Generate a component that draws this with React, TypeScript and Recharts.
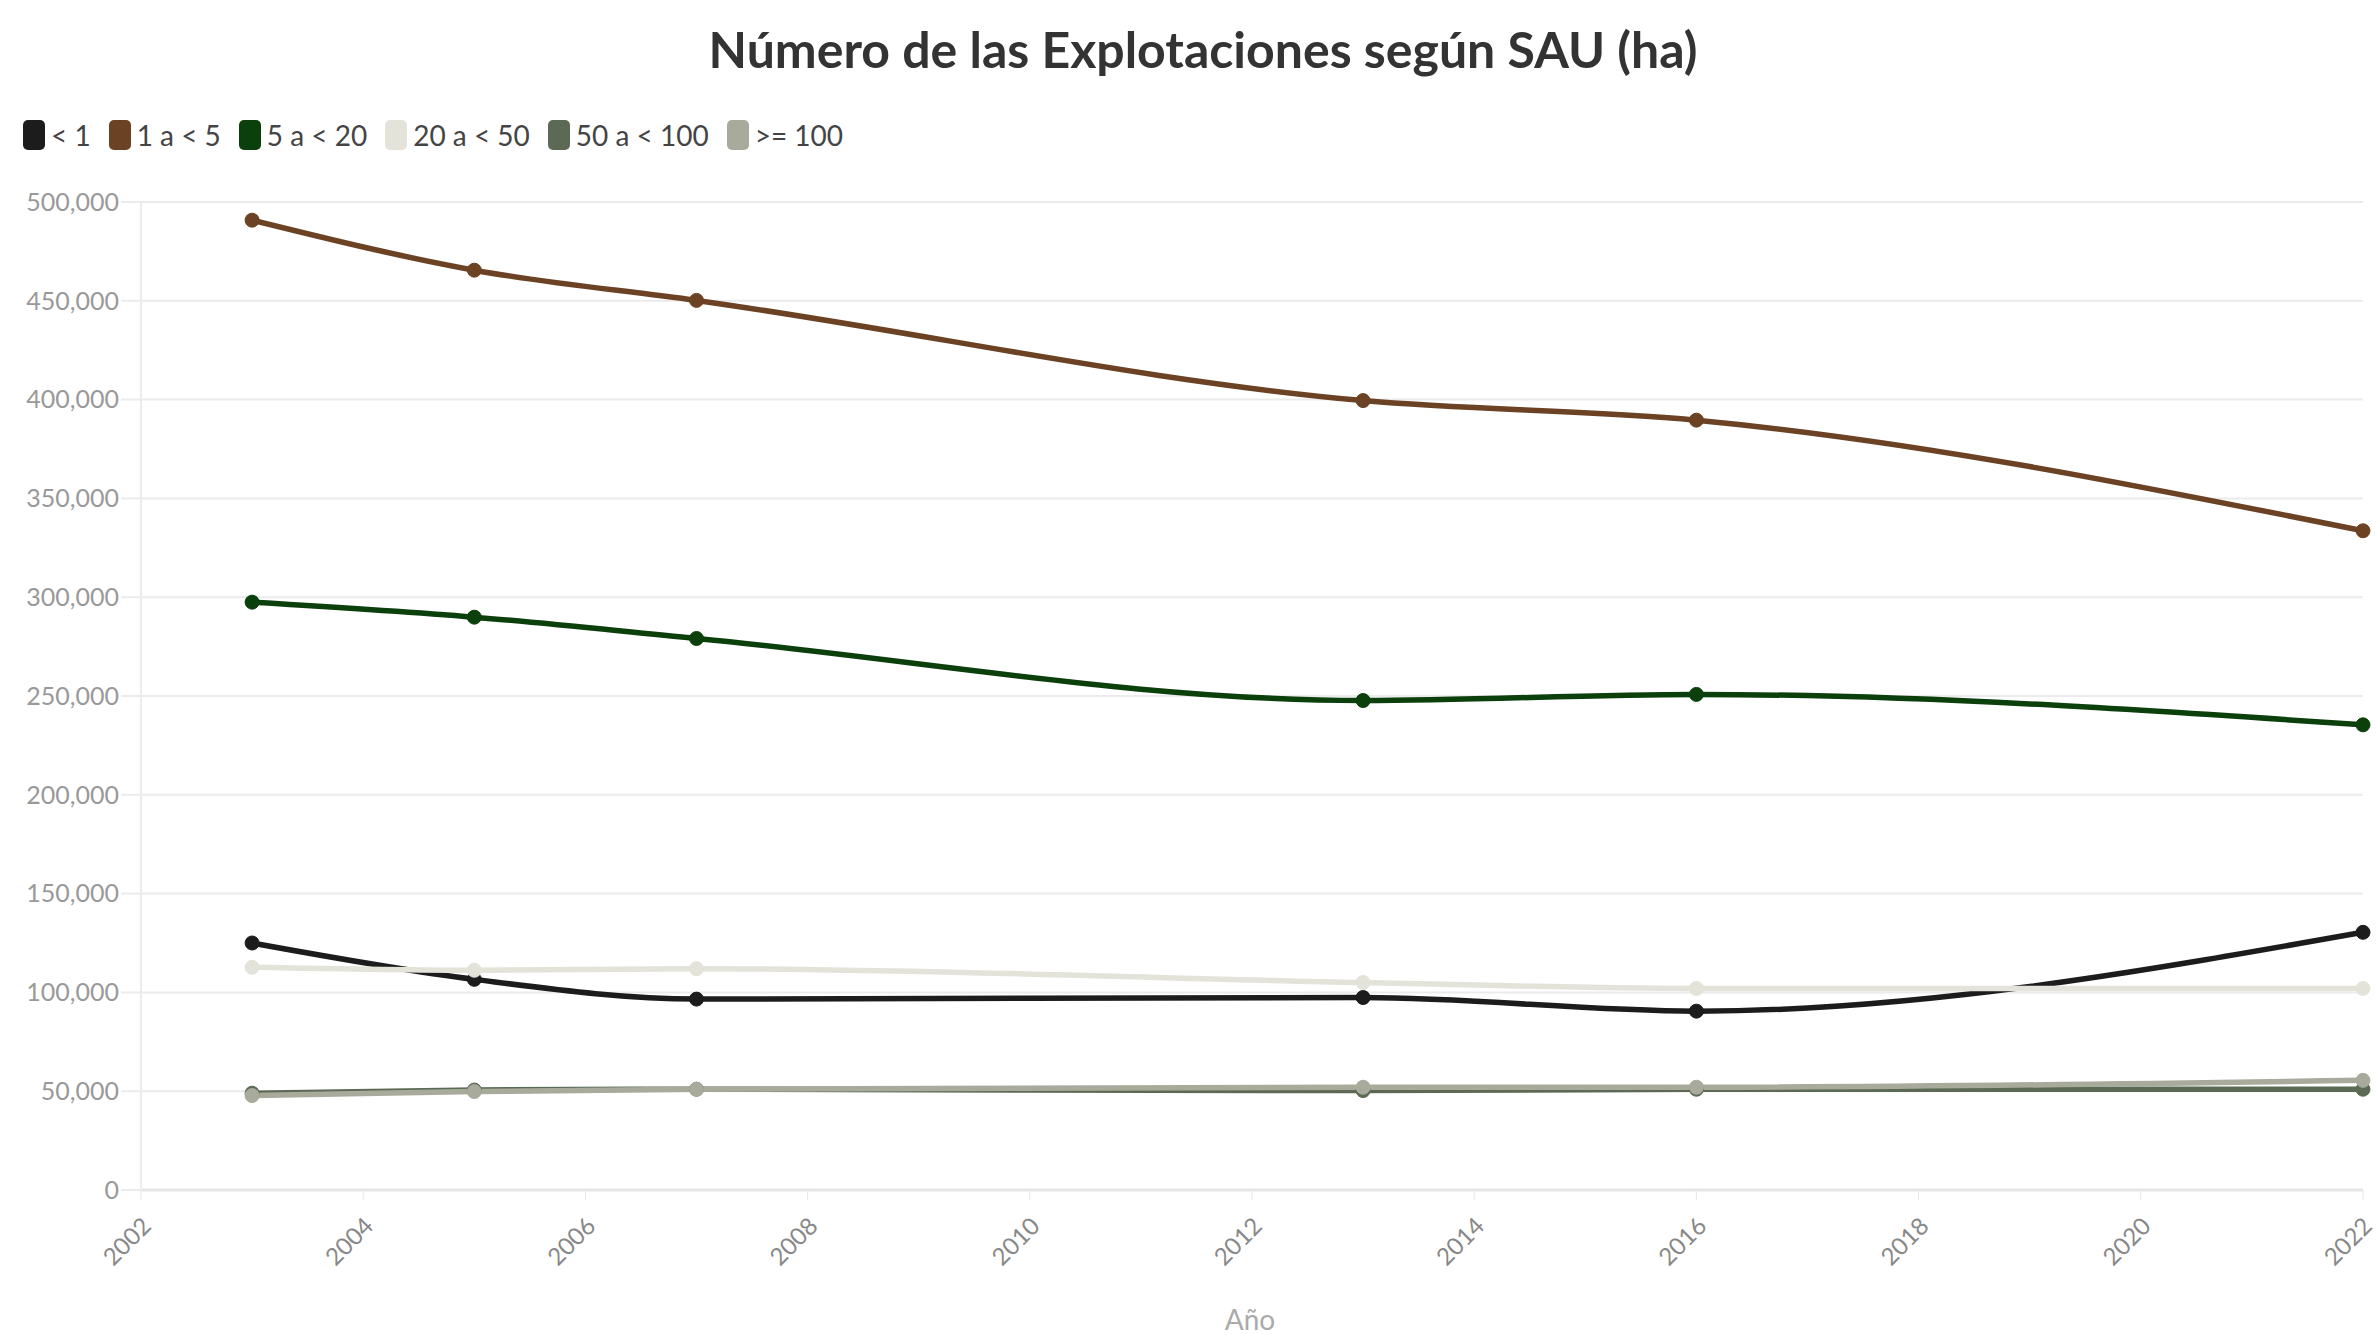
import React from 'react';
import { LineChart, Line, XAxis, YAxis, CartesianGrid } from 'recharts';

const years = [2003, 2005, 2007, 2013, 2016, 2022];
const menos1 = [125000, 106600, 96600, 97400, 90500, 130400];
const de1a5 = [490800, 465500, 450200, 399500, 389600, 333600];
const de5a20 = [297500, 289900, 279100, 247700, 250800, 235400];
const de20a50 = [112700, 111200, 112000, 105000, 102000, 102000];
const de50a100 = [49000, 50600, 51000, 50300, 51000, 51000];
const mas100 = [47800, 49800, 51000, 52000, 52000, 55500];

const xTicks = [2002, 2004, 2006, 2008, 2010, 2012, 2014, 2016, 2018, 2020, 2022];
const yTicks = [0, 50000, 100000, 150000, 200000, 250000, 300000, 350000, 400000, 450000, 500000];

const series = [
  { key: 'menos1', name: '< 1', color: '#1c1c1c', values: menos1 },
  { key: 'de1a5', name: '1 a < 5', color: '#6b4223', values: de1a5 },
  { key: 'de5a20', name: '5 a < 20', color: '#0b3f0b', values: de5a20 },
  { key: 'de20a50', name: '20 a < 50', color: '#e3e3da', values: de20a50 },
  { key: 'de50a100', name: '50 a < 100', color: '#5c6a55', values: de50a100 },
  { key: 'mas100', name: '>= 100', color: '#a8ab9c', values: mas100 },
];

const data = years.map((year, i) => {
  const row: any = { year };
  series.forEach((s) => { row[s.key] = s.values[i]; });
  return row;
});

const FONT = 'Lato, "Open Sans", sans-serif';

const fmt = (v: number) => v.toLocaleString('en-US');

// legend drawn as html above the plot, like the original
const LegendBox = () => (
  <div style={{ position: 'absolute', top: 118, left: 23, display: 'flex', alignItems: 'center', fontFamily: FONT, fontSize: 28, color: '#444' }}>
    {series.map((s) => (
      <div key={s.key} style={{ display: 'flex', alignItems: 'center', marginRight: 18 }}>
        <span style={{ display: 'inline-block', width: 22, height: 30, borderRadius: 5, background: s.color, marginRight: 6 }} />
        <span>{s.name}</span>
      </div>
    ))}
  </div>
);

const XTick = ({ x, y, payload }: any) => (
  <g transform={`translate(${x + 6},${y + 20})`}>
    <text textAnchor="end" transform="rotate(-45)" fill="#888" fontSize={24} fontFamily={FONT} dy={8}>
      {payload.value}
    </text>
  </g>
);

export default function App() {
  return (
    <div style={{ position: 'absolute', left: 0, top: 0, width: 2378, height: 1335, background: '#fff' }}>
      <div style={{ position: 'absolute', top: 19, left: 14, width: 2378, textAlign: 'center', fontFamily: FONT, fontWeight: 700, fontSize: 50, color: '#333' }}>
        Número de las Explotaciones según SAU (ha)
      </div>
      <LegendBox />
      <div style={{ position: 'absolute', top: 1302, left: 1200, width: 100, textAlign: 'center', fontFamily: FONT, fontSize: 28, color: '#aaa' }}>
        Año
      </div>
      <LineChart width={2378} height={1335} data={data} margin={{ top: 202, right: 15, bottom: 45, left: 0 }}>
        <CartesianGrid vertical={false} stroke="#ebebeb" strokeWidth={2} />
        <XAxis
          dataKey="year"
          type="number"
          domain={[2002, 2022]}
          ticks={xTicks}
          height={100}
          stroke="#e6e6e6"
          strokeWidth={3}
          tickLine={{ stroke: '#e6e6e6', strokeWidth: 1 }}
          tickSize={10}
          tick={<XTick />}
        />
        <YAxis
          domain={[0, 500000]}
          ticks={yTicks}
          width={141}
          stroke="#ececec"
          strokeWidth={2}
          tickLine={{ stroke: '#ebebeb' }}
          tickSize={20}
          tickFormatter={fmt}
          tick={{ fill: '#999', fontSize: 25, fontFamily: FONT }}
          interval={0}
        />
        {series.map((s) => (
          <Line
            key={s.key}
            type="monotone"
            dataKey={s.key}
            name={s.name}
            stroke={s.color}
            strokeWidth={5.5}
            dot={{ r: 7, fill: s.color, stroke: s.color, strokeWidth: 1 }}
            isAnimationActive={false}
          />
        ))}
      </LineChart>
    </div>
  );
}
